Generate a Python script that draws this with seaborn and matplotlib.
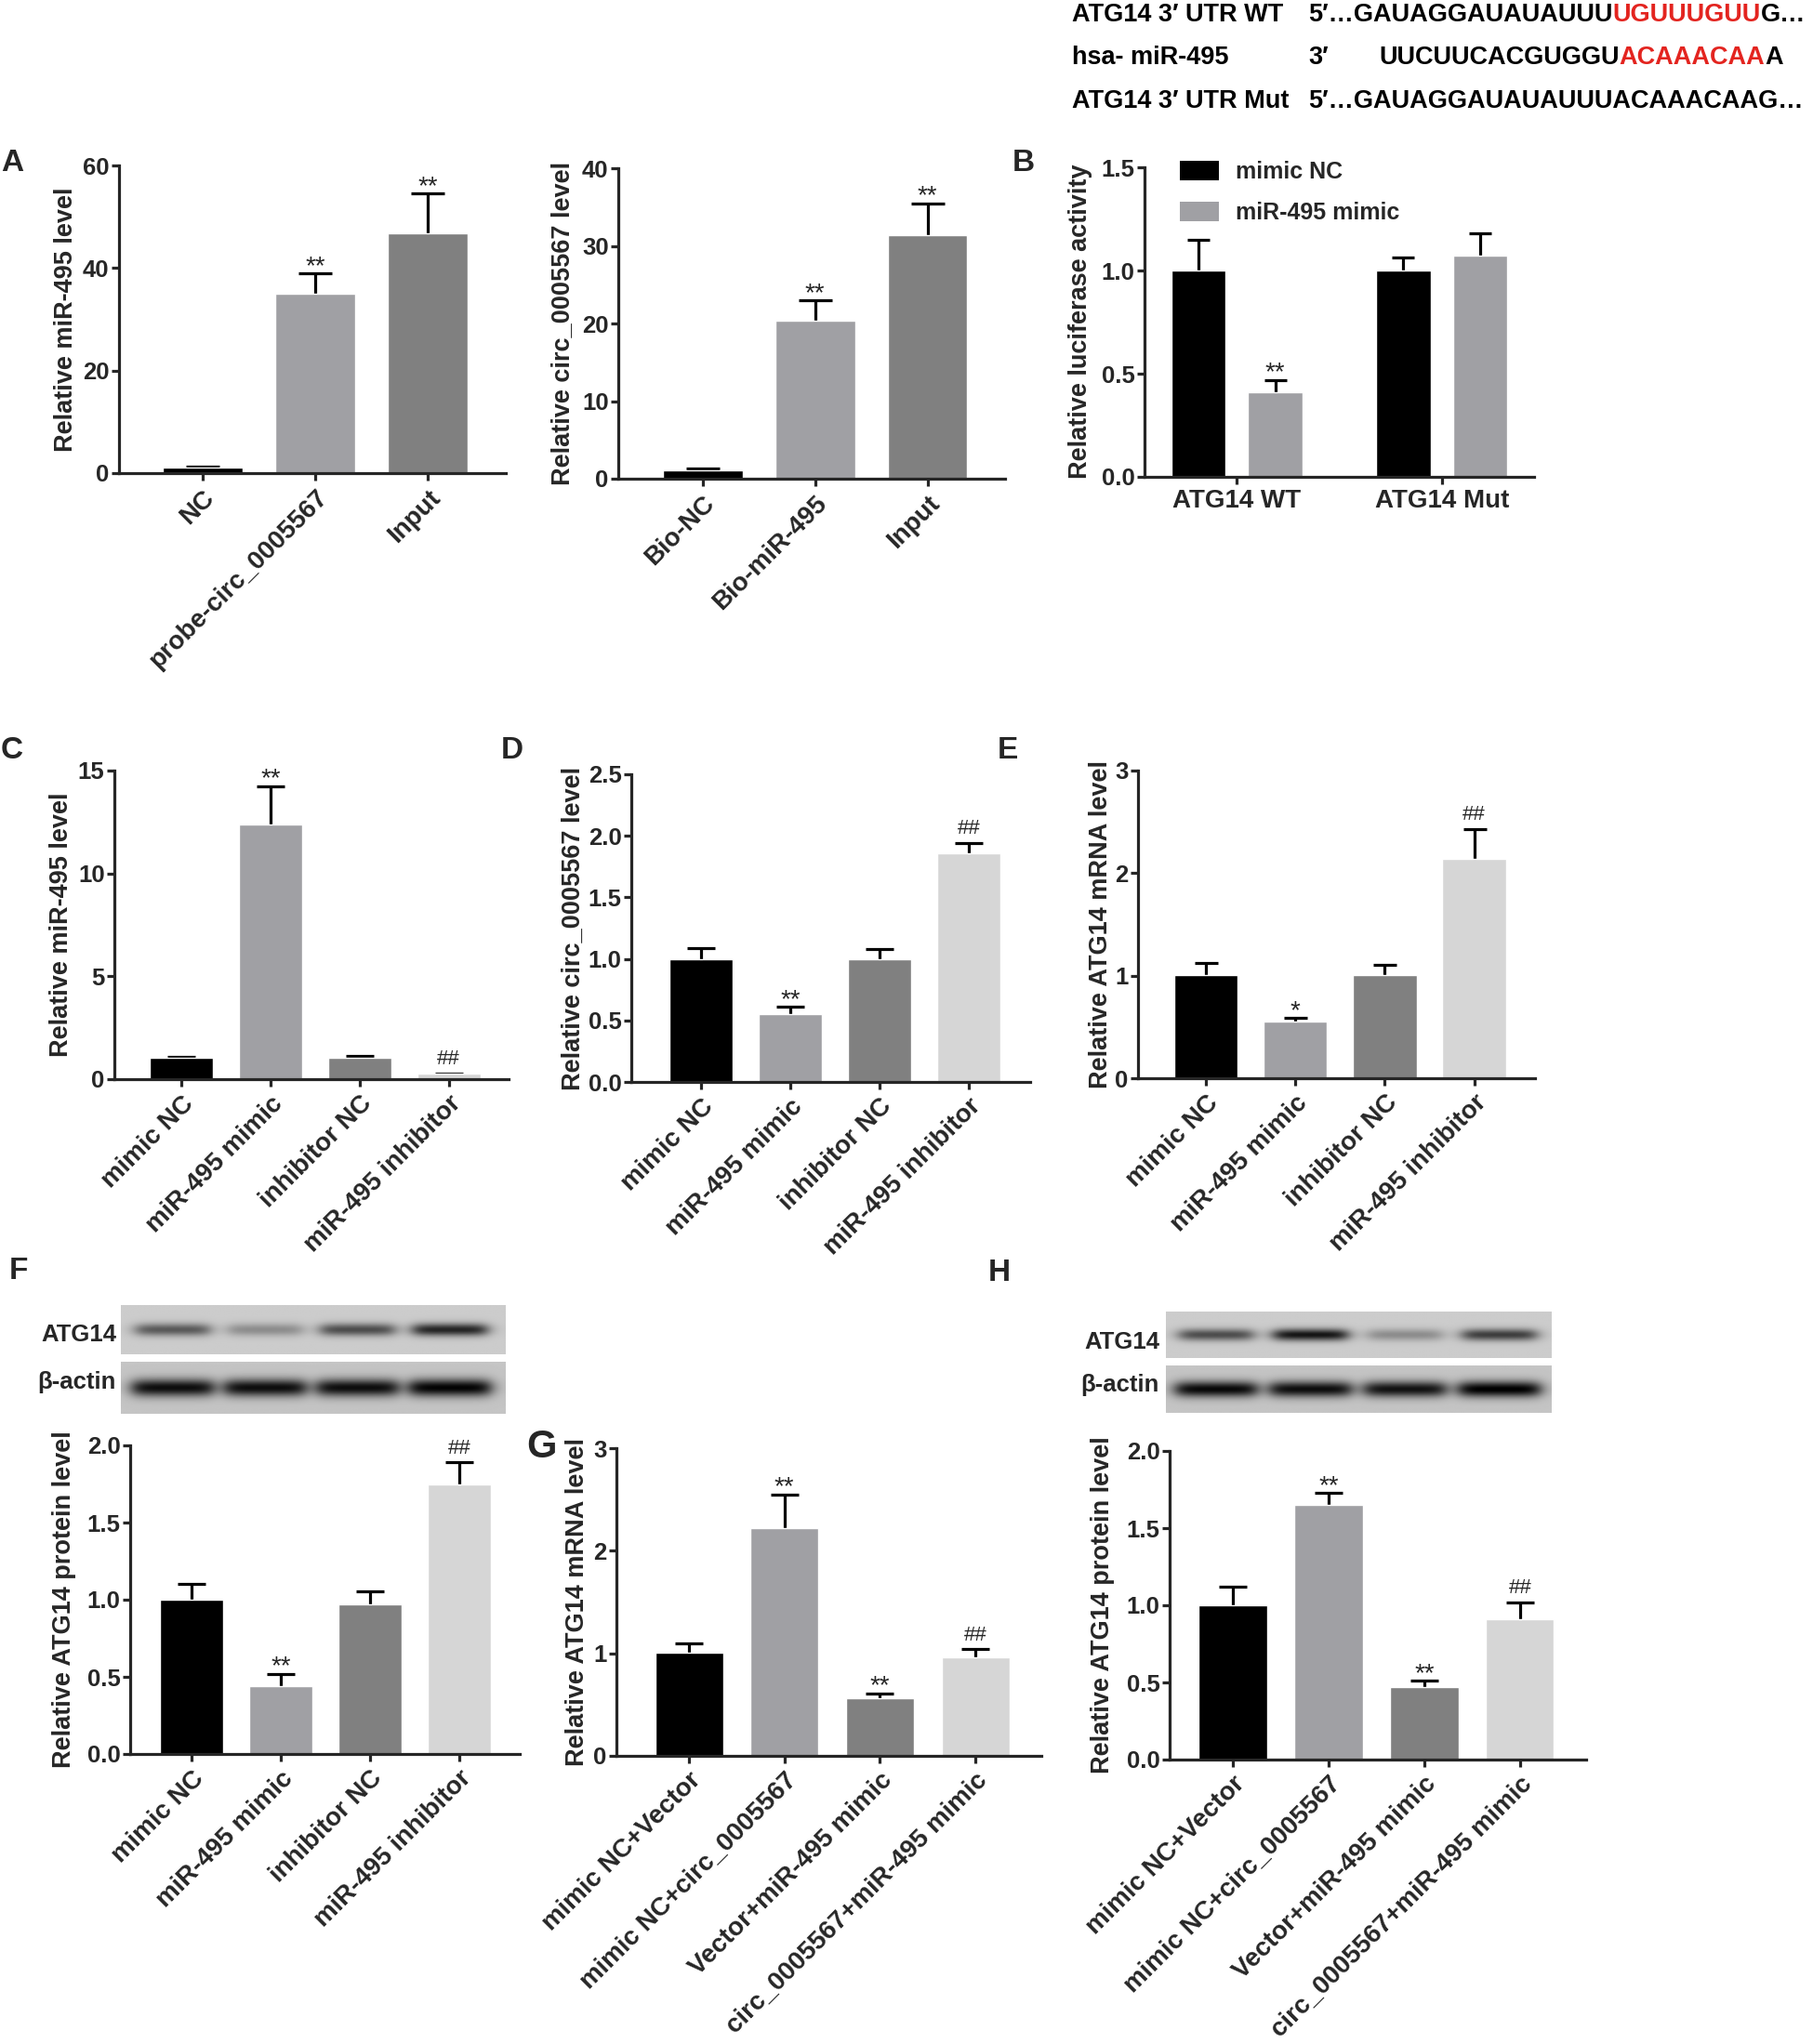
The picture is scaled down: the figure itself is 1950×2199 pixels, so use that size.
import numpy as np
import pandas as pd
import matplotlib
matplotlib.use("Agg")
import matplotlib.pyplot as plt
from matplotlib.patches import Patch
import seaborn as sns

sns.set_style("ticks")
plt.rcParams['font.family'] = ['Liberation Sans', 'DejaVu Sans']
plt.rcParams['font.weight'] = 'bold'

# ---------------- data ----------------
A_cats = ["NC", "probe-circ_0005567", "Input"]
A_vals = [1.1, 35.0, 46.8]
A_errs = [0.2, 4.0, 7.8]
A_marks = ["", "**", "**"]

A2_cats = ["Bio-NC", "Bio-miR-495", "Input"]
A2_vals = [1.1, 20.3, 31.4]
A2_errs = [0.2, 2.7, 4.1]
A2_marks = ["", "**", "**"]

B_groups = ["ATG14 WT", "ATG14 Mut"]
B_treat = ["mimic NC", "miR-495 mimic"]
B_nc_vals = [1.0, 1.0]
B_nc_errs = [0.15, 0.065]
B_mim_vals = [0.41, 1.07]
B_mim_errs = [0.06, 0.11]
B_marks = {("ATG14 WT", "miR-495 mimic"): "**"}

CDEF_cats = ["mimic NC", "miR-495 mimic", "inhibitor NC", "miR-495 inhibitor"]
C_vals = [1.05, 12.4, 1.05, 0.25]
C_errs = [0.05, 1.85, 0.10, 0.03]
C_marks = ["", "**", "", "##"]

D_vals = [1.0, 0.55, 1.0, 1.86]
D_errs = [0.09, 0.06, 0.08, 0.08]
D_marks = ["", "**", "", "##"]

E_vals = [1.01, 0.55, 1.01, 2.14]
E_errs = [0.11, 0.04, 0.10, 0.29]
E_marks = ["", "*", "", "##"]

F_vals = [1.0, 0.44, 0.97, 1.75]
F_errs = [0.10, 0.08, 0.085, 0.14]
F_marks = ["", "**", "", "##"]

GH_cats = ["mimic NC+Vector", "mimic NC+circ_0005567", "Vector+miR-495 mimic", "circ_0005567+miR-495 mimic"]
G_vals = [1.01, 2.22, 0.56, 0.96]
G_errs = [0.085, 0.33, 0.05, 0.08]
G_marks = ["", "**", "**", "##"]

H_vals = [1.0, 1.65, 0.47, 0.91]
H_errs = [0.12, 0.08, 0.04, 0.11]
H_marks = ["", "**", "**", "##"]

# western blot band intensities (darkness), lanes in the order of the categories
F_atg14_bands = [0.45, 0.25, 0.50, 0.66]
F_actin_bands = [0.72, 0.72, 0.72, 0.76]
H_atg14_bands = [0.50, 0.72, 0.25, 0.56]
H_actin_bands = [0.74, 0.72, 0.70, 0.78]

BLACK = '#000000'
GREY1 = '#a0a0a4'
GREY2 = '#808080'
GREY3 = '#d6d6d6'
RED = '#e3241f'

XTICK_FS = 20
YTICK_FS = 18.5
YLAB_FS = 19.5

W, H = 1950, 2199
fig = plt.figure(figsize=(W / 100, H / 100), dpi=100)


def add_ax(x0, y0, x1, y1):
    return fig.add_axes([x0 / W, 1 - y1 / H, (x1 - x0) / W, (y1 - y0) / H])


def fx(x):
    return x / W


def fy(y):
    return 1 - y / H


LW = 2.3


def style_ax(ax, xtick_fs=XTICK_FS):
    sns.despine(ax=ax)
    for s in ['left', 'bottom']:
        ax.spines[s].set_linewidth(LW)
    ax.tick_params(width=LW, length=5.5)
    ax.tick_params(axis='x', labelsize=xtick_fs, pad=4)
    ax.tick_params(axis='y', labelsize=YTICK_FS, pad=2)
    for lab in ax.get_xticklabels() + ax.get_yticklabels():
        lab.set_fontweight('bold')
    ax.set_xlabel('')
    ax.set_ylabel('')


def add_marks(ax, xs, tops, marks):
    for x, t, m in zip(xs, tops, marks):
        if not m:
            continue
        if m.startswith('#'):
            ax.annotate(m, (x, t), xytext=(0, 7), textcoords='offset points',
                        ha='center', va='baseline', fontsize=16, fontweight='normal')
        else:
            ax.annotate(m, (x, t), xytext=(0, 0), textcoords='offset points',
                        ha='center', va='baseline', fontsize=20, fontweight='normal')


def errbars(ax, xs, vals, errs, capsize):
    cont = ax.errorbar(xs, vals, yerr=[np.zeros(len(vals)), errs], fmt='none',
                       ecolor='black', elinewidth=LW, capsize=capsize, capthick=LW,
                       zorder=0.5)
    # keep only the upper caps
    for cl in cont[1]:
        if np.allclose(np.asarray(cl.get_ydata(), float), np.asarray(vals, float)):
            cl.set_visible(False)


def bar_panel(rect, cats, vals, errs, marks, colors, ytop, yticks, fmt, ylabel,
              label_x, xlim, capsize=11):
    ax = add_ax(*rect)
    sns.barplot(x=cats, y=vals, hue=cats, order=cats, hue_order=cats,
                palette=colors, legend=False, errorbar=None, width=0.71,
                saturation=1, ax=ax)
    xs = sorted(p.get_x() + p.get_width() / 2 for p in ax.patches)
    errbars(ax, xs, vals, errs, capsize)
    add_marks(ax, xs, np.array(vals) + np.array(errs), marks)
    ax.set_ylim(0, ytop)
    ax.set_yticks(yticks)
    ax.set_yticklabels([fmt.format(t) for t in yticks])
    ax.set_xlim(*xlim)
    ax.set_xticks(range(len(cats)))
    ax.set_xticklabels(cats, rotation=45, ha='right', rotation_mode='anchor')
    style_ax(ax)
    yc = (rect[1] + rect[3]) / 2
    fig.text(fx(label_x), fy(yc), ylabel, rotation=90, ha='center', va='center',
             fontsize=YLAB_FS, fontweight='bold')
    return ax


def blot(rect, bands, bg, half_w, sy, xlim):
    ax = add_ax(*rect)
    xs = np.linspace(xlim[0], xlim[1], 600)
    ys = np.linspace(-0.5, 0.5, 90)
    X, Y = np.meshgrid(xs, ys)
    img = np.full_like(X, bg)
    for i, a in enumerate(bands):
        px = 1 / (1 + np.exp((np.abs(X - i) - half_w) / 0.05))
        py = np.exp(-(Y / sy) ** 2)
        img = img - a * px * py
    img = np.clip(img, 0, 1)
    ax.imshow(img, cmap='gray', vmin=0, vmax=1, aspect='auto',
              extent=(xlim[0], xlim[1], -0.5, 0.5), interpolation='bilinear')
    ax.set_axis_off()
    return ax


def letter(x, y, s, fs=24):
    fig.text(fx(x), fy(y), s, ha='center', va='center', fontsize=fs, fontweight='bold')


# ---------------- sequence text ----------------
SEQ_FS = 19.5
renderer = fig.canvas.get_renderer()


def seq_line(x, y, pieces):
    for s, c in pieces:
        t = fig.text(fx(x), fy(y), s, color=c, fontsize=SEQ_FS, fontweight='bold',
                     ha='left', va='center')
        x += t.get_window_extent(renderer=renderer).width


seq_line(1153, 16, [("ATG14 3\u2032 UTR WT", BLACK)])
seq_line(1407, 16, [("5\u2032\u2026GAUAGGAUAUAUUU", BLACK), ("UGUUUGUU", RED), ("G\u2026", BLACK)])
seq_line(1153, 62, [("hsa- miR-495", BLACK)])
seq_line(1407, 62, [("3\u2032", BLACK)])
seq_line(1483, 62, [("UUCUUCACGUGGU", BLACK), ("ACAAACAA", RED), ("A", BLACK)])
seq_line(1153, 109, [("ATG14 3\u2032 UTR Mut", BLACK)])
seq_line(1407, 109, [("5\u2032\u2026GAUAGGAUAUAUUUACAAACAAG\u2026", BLACK)])

# ---------------- panel A ----------------
letter(13, 176, "A")
bar_panel((128, 178, 544, 509), A_cats, A_vals, A_errs, A_marks,
          [BLACK, GREY1, GREY2], 60, [0, 20, 40, 60], "{:.0f}",
          "Relative miR-495 level", 71, (-0.74, 2.69), capsize=13)
bar_panel((665, 181, 1081, 515), A2_cats, A2_vals, A2_errs, A2_marks,
          [BLACK, GREY1, GREY2], 40, [0, 10, 20, 30, 40], "{:.0f}",
          "Relative circ_0005567 level", 606, (-0.75, 2.69), capsize=13)

# ---------------- panel B ----------------
letter(1101, 176, "B")
axB = add_ax(1231, 180, 1650, 513)
dfB = pd.DataFrame({
    "group": B_groups * 2,
    "treat": [B_treat[0]] * 2 + [B_treat[1]] * 2,
    "val": B_nc_vals + B_mim_vals,
    "err": B_nc_errs + B_mim_errs,
})
sns.barplot(data=dfB, x="group", y="val", hue="treat", order=B_groups,
            hue_order=B_treat, palette=[BLACK, GREY1], width=0.75, gap=0.29,
            errorbar=None, saturation=1, legend=False, ax=axB)
for cont, tr in zip(axB.containers, B_treat):
    sub = dfB[dfB.treat == tr].set_index("group").loc[B_groups]
    xs = [b.get_x() + b.get_width() / 2 for b in cont]
    errbars(axB, xs, sub.val.values, sub.err.values, 8.5)
    mk = [B_marks.get((g, tr), "") for g in B_groups]
    add_marks(axB, xs, sub.val.values + sub.err.values, mk)
axB.set_ylim(0, 1.5)
axB.set_yticks([0, 0.5, 1.0, 1.5])
axB.set_yticklabels(["0.0", "0.5", "1.0", "1.5"])
axB.set_xlim(-0.45, 1.45)
style_ax(axB, xtick_fs=20)
fig.text(fx(1162), fy(346), "Relative luciferase activity", rotation=90,
         ha='center', va='center', fontsize=YLAB_FS, fontweight='bold')
handles = [Patch(facecolor=BLACK, edgecolor='none'), Patch(facecolor=GREY1, edgecolor='none')]
axB.legend(handles, B_treat, loc='upper left', bbox_to_anchor=(0.09, 1.02),
           frameon=False, fontsize=18, handlelength=1.7, handleheight=0.9,
           labelspacing=0.8, handletextpad=0.7, borderpad=0, borderaxespad=0)

# ---------------- panels C, D, E ----------------
letter(13, 808, "C")
bar_panel((123, 829, 547, 1161), CDEF_cats, C_vals, C_errs, C_marks,
          [BLACK, GREY1, GREY2, GREY3], 15, [0, 5, 10, 15], "{:.0f}",
          "Relative miR-495 level", 66, (-0.75, 3.67))
letter(551, 808, "D")
bar_panel((679, 833, 1108, 1164), CDEF_cats, D_vals, D_errs, D_marks,
          [BLACK, GREY1, GREY2, GREY3], 2.5, [0, 0.5, 1.0, 1.5, 2.0, 2.5], "{:.1f}",
          "Relative circ_0005567 level", 617, (-0.78, 3.69))
letter(1084, 808, "E")
bar_panel((1224, 829, 1651, 1160), CDEF_cats, E_vals, E_errs, E_marks,
          [BLACK, GREY1, GREY2, GREY3], 3, [0, 1, 2, 3], "{:.0f}",
          "Relative ATG14 mRNA level", 1184, (-0.76, 3.68), capsize=9)

# ---------------- panel F ----------------
letter(20, 1368, "F")
blot((130, 1404, 544, 1457), F_atg14_bands, 0.80, 0.40, 0.13, (-0.56, 3.6))
blot((130, 1465, 544, 1521), F_actin_bands, 0.77, 0.44, 0.17, (-0.56, 3.6))
fig.text(fx(125), fy(1436), "ATG14", ha='right', va='center', fontsize=18.5, fontweight='bold')
fig.text(fx(125), fy(1487), "\u03b2-actin", ha='right', va='center', fontsize=18.5, fontweight='bold')
bar_panel((140, 1555, 559, 1887), CDEF_cats, F_vals, F_errs, F_marks,
          [BLACK, GREY1, GREY2, GREY3], 2.0, [0, 0.5, 1.0, 1.5, 2.0], "{:.1f}",
          "Relative ATG14 protein level", 69, (-0.69, 3.68))

# ---------------- panel G ----------------
letter(583, 1557, "G", fs=30)
bar_panel((663, 1558, 1120, 1889), GH_cats, G_vals, G_errs, G_marks,
          [BLACK, GREY1, GREY2, GREY3], 3, [0, 1, 2, 3], "{:.0f}",
          "Relative ATG14 mRNA level", 621, (-0.76, 3.69))

# ---------------- panel H ----------------
letter(1075, 1369, "H")
blot((1254, 1411, 1669, 1461), H_atg14_bands, 0.80, 0.39, 0.13, (-0.53, 3.55))
blot((1254, 1469, 1669, 1520), H_actin_bands, 0.77, 0.43, 0.17, (-0.53, 3.55))
fig.text(fx(1247), fy(1444), "ATG14", ha='right', va='center', fontsize=18.5, fontweight='bold')
fig.text(fx(1247), fy(1490), "\u03b2-actin", ha='right', va='center', fontsize=18.5, fontweight='bold')
bar_panel((1258, 1561, 1706, 1893), GH_cats, H_vals, H_errs, H_marks,
          [BLACK, GREY1, GREY2, GREY3], 2.0, [0, 0.5, 1.0, 1.5, 2.0], "{:.1f}",
          "Relative ATG14 protein level", 1186, (-0.66, 3.69))

fig.savefig("out.png", dpi=100, facecolor='white')
